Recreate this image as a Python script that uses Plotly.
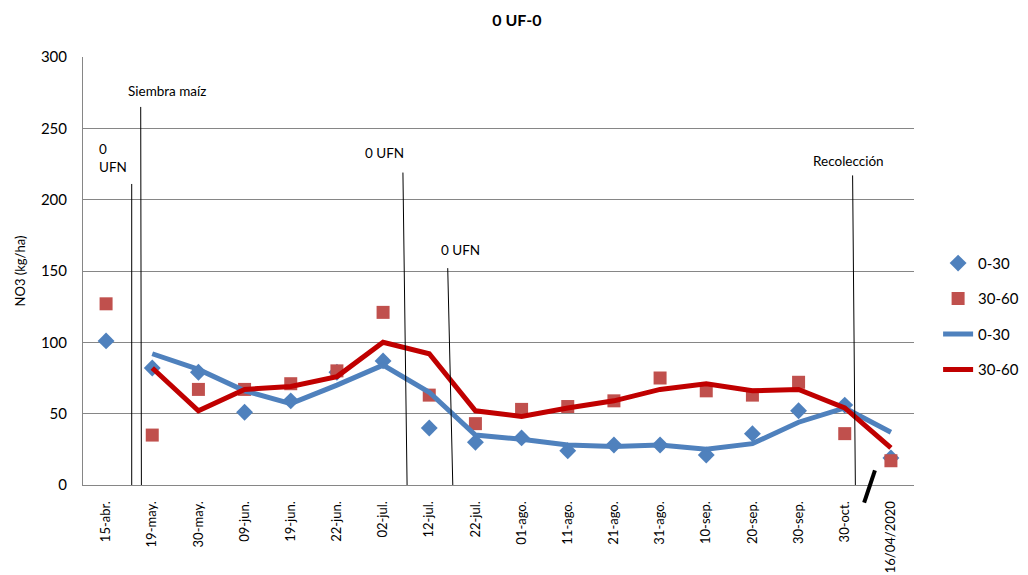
import plotly.graph_objects as go

categories = ["15-abr.", "19-may.", "30-may.", "09-jun.", "19-jun.", "22-jun.", "02-jul.",
              "12-jul.", "22-jul.", "01-ago.", "11-ago.", "21-ago.", "31-ago.", "10-sep.",
              "20-sep.", "30-sep.", "30-oct.", "16/04/2020"]

pts_0_30 = [101, 82, 79, 51, 59, 79, 87, 40, 30, 33, 24, 28, 28, 21, 36, 52, 56, 19]
pts_30_60 = [127, 35, 67, 67, 71, 80, 121, 63, 43, 53, 55, 59, 75, 66, 63, 72, 36, 17]
line_0_30 = [None, 92, 81, 66, 57, 70, 84, 65, 35, 32, 28, 27, 28, 25, 29, 44, 54, 37]
line_30_60 = [None, 82, 52, 67, 69, 76, 100, 92, 52, 48, 54, 59, 67, 71, 66, 67, 54, 26]

# event marker lines: (x_top, y_top, x_bottom) in category-index / value units
event_lines = [(0.555, 211, 0.555), (0.75, 265, 0.765), (6.43, 219, 6.52),
               (7.40, 152, 7.51), (16.17, 217, 16.23)]
# event labels: (text, x, y, xanchor)
event_labels = [("0<br>UFN", -0.2, 229, "left"), ("Siembra maíz", 1.33, 276, "center"),
                ("0 UFN", 6.02, 233, "center"), ("0 UFN", 7.68, 165, "center"),
                ("Recolección", 16.08, 227, "center")]

FONT = "Lato"
blue = "#4F81BD"
red_pt = "#C0504D"
red_ln = "#C00000"

fig = go.Figure()
fig.add_trace(go.Scatter(x=categories, y=pts_0_30, mode="markers", name="0-30",
                         marker=dict(symbol="diamond", size=13, color=blue),
                         legendgroup="a"))
fig.add_trace(go.Scatter(x=categories, y=pts_30_60, mode="markers", name="30-60",
                         marker=dict(symbol="square", size=13, color=red_pt),
                         legendgroup="b"))
fig.add_trace(go.Scatter(x=categories, y=line_0_30, mode="lines", name="0-30",
                         line=dict(color=blue, width=5), legendgroup="c"))
fig.add_trace(go.Scatter(x=categories, y=line_30_60, mode="lines", name="30-60",
                         line=dict(color=red_ln, width=5), legendgroup="d"))

shapes = []
for xt, yt, xb in event_lines:
    shapes.append(dict(type="line", xref="x", yref="y", x0=xb, y0=0, x1=xt, y1=yt,
                       line=dict(color="black", width=1)))
# slash mark near bottom right
shapes.append(dict(type="line", xref="paper", yref="paper", x0=0.953, y0=0.034,
                   x1=0.940, y1=-0.041, line=dict(color="black", width=4)))

annotations = []
for txt, x, y, xa in event_labels:
    annotations.append(dict(text=txt, x=x, y=y, xref="x", yref="y", showarrow=False,
                            xanchor=xa, yanchor="middle", align="left",
                            font=dict(family=FONT, size=13.5, color="black")))

fig.update_layout(
    width=1028, height=575,
    margin=dict(l=75, r=120, t=49, b=98),
    paper_bgcolor="white", plot_bgcolor="white",
    title=dict(text="<b>0 UF-0</b>", x=0.495, xanchor="center", y=0.979, yanchor="middle",
               font=dict(family=FONT, size=16, color="black")),
    font=dict(family=FONT, color="black"),
    showlegend=True,
    legend=dict(x=1.029, xanchor="left", y=0.394, yanchor="middle",
                font=dict(family=FONT, size=15, color="black"),
                tracegroupgap=13, traceorder="grouped", bgcolor="rgba(0,0,0,0)"),
    shapes=shapes, annotations=annotations,
)
fig.update_xaxes(type="category", range=[-0.5, 17.5], tickangle=-90, showgrid=False,
                 showline=True, linecolor="#868686", linewidth=1, ticks="", automargin=False,
                 tickfont=dict(family=FONT, size=13, color="black"), ticklabelstandoff=10)
fig.update_yaxes(range=[0, 300], dtick=50, showgrid=True, gridcolor="#868686", gridwidth=1,
                 showline=True, linecolor="#868686", linewidth=1, zeroline=False, ticks="",
                 automargin=False,
                 tickfont=dict(family=FONT, size=15, color="black"), ticklabelstandoff=12,
                 title=dict(text="NO3 (kg/ha)", font=dict(family=FONT, size=13, color="black"),
                            standoff=12))

fig.write_html("out.html")
